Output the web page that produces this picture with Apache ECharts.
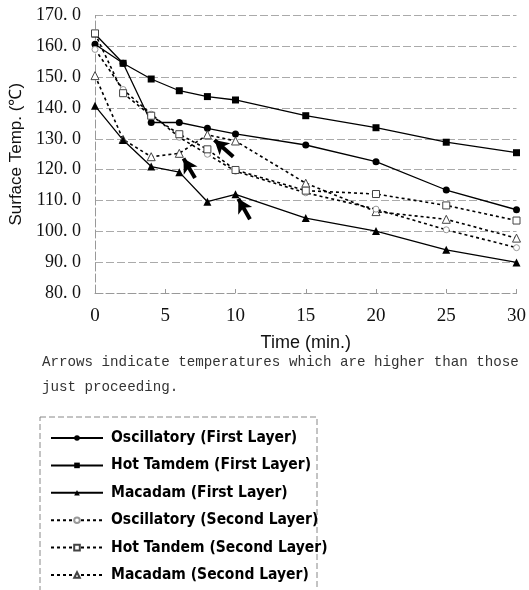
<!DOCTYPE html>
<html>
<head>
<meta charset="utf-8">
<script src="https://cdn.jsdelivr.net/npm/echarts@6/dist/echarts.min.js"></script>
<style>
html,body{margin:0;padding:0;background:#fff;}
#c{width:529px;height:590px;}
</style>
</head>
<body>
<div id="c"></div>
<script>
// ---- data ----
const times = [0, 2, 4, 6, 8, 10, 15, 20, 25, 30];
const oscFirst  = [160.7, 154.5, 135.3, 135.3, 133.4, 131.6, 128.0, 122.6, 113.4, 107.0];
const hotFirst  = [164.0, 154.5, 149.4, 145.6, 143.7, 142.6, 137.5, 133.6, 128.9, 125.5];
const macFirst  = [140.7, 129.6, 121.0, 119.2, 109.6, 112.0, 104.3, 100.1, 94.0, 89.9];
const oscSecond = [159.0, 146.0, 138.0, 130.5, 125.0, 119.5, 112.5, 107.2, 100.5, 94.7];
const hotSecond = [164.2, 144.8, 137.5, 131.5, 126.6, 119.9, 113.2, 112.1, 108.4, 103.5];
const macSecond = [150.5, 129.8, 124.2, 125.3, 131.3, 129.3, 115.6, 106.4, 103.9, 97.8];
const seriesNames = [
  'Oscillatory (First Layer)',
  'Hot Tamdem (First Layer)',
  'Macadam (First Layer)',
  'Oscillatory (Second Layer)',
  'Hot Tandem (Second Layer)',
  'Macadam (Second Layer)'
];
// arrows: [tail, head] in data coordinates [time, temp]
const arrows = [
  [[7.12, 117.3], [6.3, 123.6]],
  [[9.84, 124.2], [8.5, 129.6]],
  [[11.03, 103.9], [10.2, 110.6]]
];
const yTicks = {min: 80, max: 170, step: 10};
const xTicks = {min: 0, max: 30, step: 5};
const noteLines = [
  'Arrows indicate temperatures which are higher than those',
  'just proceeding.'
];

const pair = arr => times.map((t, i) => [t, arr[i]]);
const chart = echarts.init(document.getElementById('c'), null, {renderer: 'canvas'});
const gridDash = [8, 3];
const dotted = [3, 3];

function solidSeries(name, data, symbol, size, extra) {
  return Object.assign({
    name, type: 'line', data: pair(data), symbol, symbolSize: size,
    showSymbol: true,
    lineStyle: {color: '#000', width: 1.3, type: 'solid'},
    itemStyle: {color: '#000', borderColor: '#000', borderWidth: 0}
  }, extra || {});
}
function dottedSeries(name, data, symbol, size, border) {
  return {
    name, type: 'line', data: pair(data), symbol, symbolSize: size,
    showSymbol: true,
    lineStyle: {color: '#000', width: 1.6, type: dotted},
    itemStyle: {color: '#fff', borderColor: border, borderWidth: 1}
  };
}

const option = {
  animation: false,
  backgroundColor: '#fff',
  grid: {left: 95, right: 12, top: 15.5, bottom: 297},
  xAxis: {
    type: 'value', min: xTicks.min, max: xTicks.max, interval: xTicks.step,
    name: 'Time (min.)', nameLocation: 'middle', nameGap: 41,
    nameTextStyle: {fontFamily: 'Liberation Sans', fontSize: 18, color: '#111'},
    axisLine: {show: true, onZero: false, lineStyle: {color: '#999', type: gridDash}},
    axisTick: {show: true, inside: true, length: 4, lineStyle: {color: '#999'}},
    axisLabel: {fontFamily: 'Liberation Serif', fontSize: 19, color: '#111', margin: 14},
    splitLine: {show: false}
  },
  yAxis: {
    type: 'value', min: yTicks.min, max: yTicks.max, interval: yTicks.step,
    name: 'Surface Temp. (℃)', nameLocation: 'middle', nameGap: 65, nameRotate: 90,
    nameTextStyle: {fontFamily: 'Liberation Sans', fontSize: 17, color: '#111'},
    axisLine: {show: true, lineStyle: {color: '#999', type: gridDash}},
    axisTick: {show: false},
    axisLabel: {
      fontFamily: 'Liberation Serif', fontSize: 18, color: '#111', margin: 14,
      formatter: v => v.toFixed(1).replace('.', '. ')
    },
    splitLine: {show: true, lineStyle: {color: '#aaa', type: gridDash}}
  },
  legend: {
    orient: 'vertical', left: 50, top: 430, padding: 0,
    itemWidth: 52, itemHeight: 7, itemGap: 11.4,
    data: seriesNames,
    textStyle: {
      fontFamily: '"Liberation Sans Narrow", "DejaVu Sans Condensed", sans-serif',
      fontWeight: 'bold', fontSize: 15.5, color: '#000', lineHeight: 14,
      padding: [0, 0, 0, 3]
    }
  },
  graphic: [
    {type: 'rect', silent: true, shape: {x: 40, y: 417, width: 277, height: 220},
     style: {fill: 'none', stroke: '#888', lineWidth: 1, lineDash: [6, 3]}},
    {type: 'text', left: 42, top: 355,
     style: {text: noteLines[0], font: '14.2px "Liberation Mono"', fill: '#333'}},
    {type: 'text', left: 42, top: 380,
     style: {text: noteLines[1], font: '14.2px "Liberation Mono"', fill: '#333'}}
  ],
  series: [
    solidSeries(seriesNames[0], oscFirst, 'circle', 7),
    solidSeries(seriesNames[1], hotFirst, 'rect', 7),
    dottedSeries(seriesNames[5], macSecond, 'triangle', 8, '#444'),
    solidSeries(seriesNames[2], macFirst, 'triangle', 8, {
      markLine: {
        silent: true, animation: false,
        symbol: ['none', 'arrow'], symbolSize: [12, 14],
        label: {show: false},
        lineStyle: {color: '#000', width: 4, type: 'solid'},
        emphasis: {disabled: true},
        data: arrows.map(a => [{coord: a[0]}, {coord: a[1]}])
      }
    }),
    dottedSeries(seriesNames[3], oscSecond, 'circle', 6, '#999'),
    dottedSeries(seriesNames[4], hotSecond, 'rect', 7, '#444')
  ]
};
chart.setOption(option);
</script>
</body>
</html>
